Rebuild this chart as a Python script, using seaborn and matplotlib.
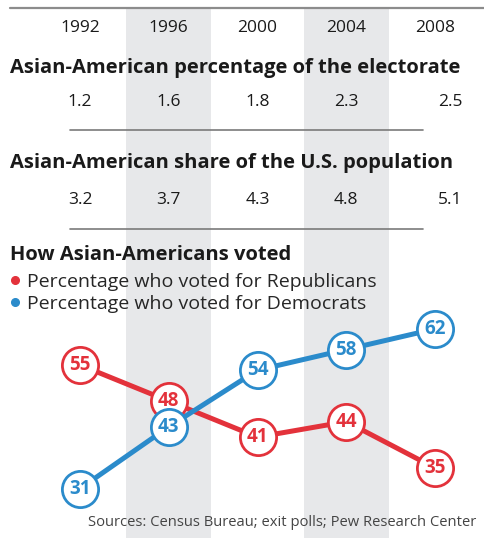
import numpy as np
import pandas as pd
import matplotlib.pyplot as plt
import seaborn as sns
from matplotlib.lines import Line2D
from matplotlib.transforms import blended_transform_factory

years = [1992, 1996, 2000, 2004, 2008]
electorate_pct = ["1.2", "1.6", "1.8", "2.3", "2.5"]
population_pct = ["3.2", "3.7", "4.3", "4.8", "5.1"]
republican = [55, 48, 41, 44, 35]
democrat = [31, 43, 54, 58, 62]
shaded_years = [1996, 2004]

series_names = ["Percentage who voted for Republicans",
                "Percentage who voted for Democrats"]

RED = "#e3323b"
BLUE = "#2b8bcb"
BAND = "#e7e8ea"
INK = "#1a1a1a"

sns.set_theme(style="white")
plt.rcParams['font.family'] = ['Open Sans', 'DejaVu Sans']

W, H = 484, 538
fig = plt.figure(figsize=(W / 100, H / 100), dpi=100)
ax = fig.add_axes([0, 0, 1, 1])
ax.set_xlim(1988.395, 2010.207)
ax.set_ylim(21.41, 125.87)
ax.axis('off')


def fy(px):
    return 1 - px / H


tr = blended_transform_factory(ax.transData, fig.transFigure)

# grey column bands
for yr in shaded_years:
    ax.axvspan(yr - 1.92, yr + 1.92, ymin=0, ymax=fy(9), color=BAND, zorder=0, lw=0)

# rules
fig.add_artist(Line2D([10 / W, 1], [fy(8)] * 2, color="#8c8c8c", lw=1.6))
for ypx in (130, 229):
    fig.add_artist(Line2D([70 / W, 423 / W], [fy(ypx)] * 2, color="#7a7a7a", lw=1.2))

# year header + table rows
last_shift = 0.7
for i, yr in enumerate(years):
    ax.text(yr, fy(28), str(yr), transform=tr, ha='center', va='center',
            fontsize=12.5, color=INK)
    dx = last_shift if i == len(years) - 1 else 0
    ax.text(yr + dx, fy(102), electorate_pct[i], transform=tr, ha='center',
            va='center', fontsize=12.5, color=INK)
    ax.text(yr + dx, fy(200), population_pct[i], transform=tr, ha='center',
            va='center', fontsize=12.5, color=INK)

for ypx, txt in ((68, "Asian-American percentage of the electorate"),
                 (163, "Asian-American share of the U.S. population"),
                 (255, "How Asian-Americans voted")):
    fig.text(10 / W, fy(ypx), txt, ha='left', va='center', fontsize=14.5,
             fontweight='bold', color=INK)

# vote lines
df = pd.DataFrame({
    "year": years * 2,
    "value": republican + democrat,
    "party": [series_names[0]] * len(years) + [series_names[1]] * len(years),
})
palette = {series_names[0]: RED, series_names[1]: BLUE}
sns.lineplot(data=df, x="year", y="value", hue="party", palette=palette,
             linewidth=3.6, legend=False, ax=ax, zorder=2)

for vals, col in ((republican, RED), (democrat, BLUE)):
    ax.scatter(years, vals, s=680, facecolor="white", edgecolor=col,
               linewidth=2.0, zorder=3)
    for x, v in zip(years, vals):
        ax.text(x, v, str(v), ha='center', va='center', fontsize=13.5,
                fontweight='bold', color=col, zorder=4)

handles = [Line2D([], [], marker='o', ls='', color=c, markersize=5.5)
           for c in (RED, BLUE)]
ax.legend(handles, series_names, loc='upper left',
          bbox_to_anchor=(5 / W, fy(273)), bbox_transform=fig.transFigure,
          frameon=False, fontsize=14, handletextpad=0.15, handlelength=1.0,
          labelspacing=0.2, borderaxespad=0, borderpad=0)

fig.text(88 / W, fy(522), "Sources: Census Bureau; exit polls; Pew Research Center",
         ha='left', va='center', fontsize=10.6, color="#444444")

fig.savefig("out.png", dpi=100)
